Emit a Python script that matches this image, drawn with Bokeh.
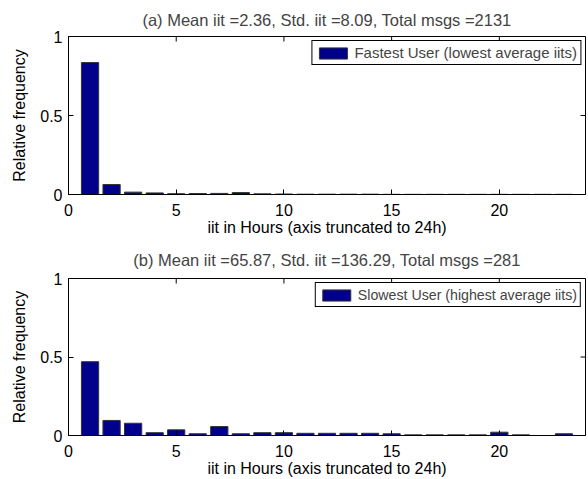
import math
from bokeh.plotting import figure
from bokeh.models import Range1d, Legend, LegendItem, FixedTicker, ColumnDataSource
from bokeh.layouts import column
from bokeh.embed import file_html
from bokeh.resources import INLINE

bins = list(range(1, 24))
fast_freq = [0.835, 0.063, 0.015, 0.010, 0.005, 0.006, 0.007, 0.012, 0.004, 0.003,
             0.002, 0.002, 0.002, 0.002, 0.001, 0.001, 0.001, 0.001, 0.001, 0.001,
             0.001, 0.001, 0.001]
slow_freq = [0.470, 0.096, 0.078, 0.018, 0.036, 0.011, 0.057, 0.011, 0.018, 0.018,
             0.014, 0.014, 0.014, 0.014, 0.011, 0.004, 0.004, 0.004, 0.004, 0.021,
             0.004, 0.0, 0.011]
titles = ["(a) Mean iit =2.36, Std. iit =8.09, Total msgs =2131",
          "(b) Mean iit =65.87, Std. iit =136.29, Total msgs =281"]
legend_labels = ["Fastest User (lowest average iits)",
                 "Slowest User (highest average iits)"]
x_ticks = [0, 5, 10, 15, 20]
y_ticks = [0, 0.5, 1]
xlabel = "iit in Hours (axis truncated to 24h)"
ylabel = "Relative frequency"

FONT = "Liberation Sans"
FS = "16px"
BAR = "#00008B"
XMAX, YMAX = 24, 1

def make(freq, title, leg, frame_h, border_top, border_bottom, title_standoff, leg_fs):
    p = figure(frame_width=517, frame_height=frame_h, output_backend="svg",
               toolbar_location=None, x_range=Range1d(0, XMAX), y_range=Range1d(0, YMAX),
               min_border_left=68, min_border_right=3, min_border_top=border_top,
               min_border_bottom=border_bottom)
    p.title.text = title
    p.title.align = "center"
    p.title.text_font = FONT
    p.title.text_font_size = "16.5px"
    p.title.text_font_style = "normal"
    p.title.standoff = title_standoff
    p.xgrid.visible = False
    p.ygrid.visible = False
    p.outline_line_color = "black"
    p.outline_line_alpha = 1
    src = ColumnDataSource(dict(x=bins, top=freq))
    r = p.vbar(x="x", top="top", width=0.8, bottom=0, source=src,
               fill_color=BAR, line_color="#333333", line_width=1)
    # top and right tick marks (mirror of the bottom/left ticks)
    p.scatter(x=x_ticks, y=[YMAX] * len(x_ticks), marker="dash", angle=math.pi / 2,
              size=10, line_color="black", line_width=1)
    p.scatter(x=[XMAX] * len(y_ticks), y=y_ticks, marker="dash",
              size=10, line_color="black", line_width=1)
    for ax in p.xaxis:
        ax.ticker = FixedTicker(ticks=x_ticks)
        ax.axis_label = xlabel
        ax.major_label_standoff = 9
        ax.axis_label_standoff = 0
    for ax in p.yaxis:
        ax.ticker = FixedTicker(ticks=y_ticks)
        ax.major_label_overrides = {0: "0", 0.5: "0.5", 1: "1"}
        ax.axis_label = ylabel
        ax.major_label_standoff = 6
        ax.axis_label_standoff = 9
    for ax in list(p.xaxis) + list(p.yaxis):
        ax.major_tick_in = 5
        ax.major_tick_out = 0
        ax.minor_tick_in = 0
        ax.minor_tick_out = 0
        ax.axis_line_color = "black"
        ax.major_tick_line_color = "black"
        ax.major_label_text_font = FONT
        ax.major_label_text_font_size = FS
        ax.major_label_text_color = "black"
        ax.axis_label_text_font = FONT
        ax.axis_label_text_font_size = FS
        ax.axis_label_text_font_style = "normal"
        ax.axis_label_text_color = "black"
    legend = Legend(items=[LegendItem(label=leg, renderers=[r])],
                    location="top_right", label_text_font=FONT,
                    label_text_font_size=leg_fs, border_line_color="black",
                    border_line_alpha=1, padding=3, margin=4, spacing=0,
                    glyph_width=35, glyph_height=14, label_standoff=4,
                    label_height=17, background_fill_alpha=1)
    p.add_layout(legend, "center")
    return p

p1 = make(fast_freq, titles[0], legend_labels[0], 158, 35, 40, 16, "15px")
p2 = make(slow_freq, titles[1], legend_labels[1], 157, 40, 40, 20, "14.2px")
p = column(p1, p2, spacing=0)
open("out.html", "w").write(file_html(p, INLINE))
